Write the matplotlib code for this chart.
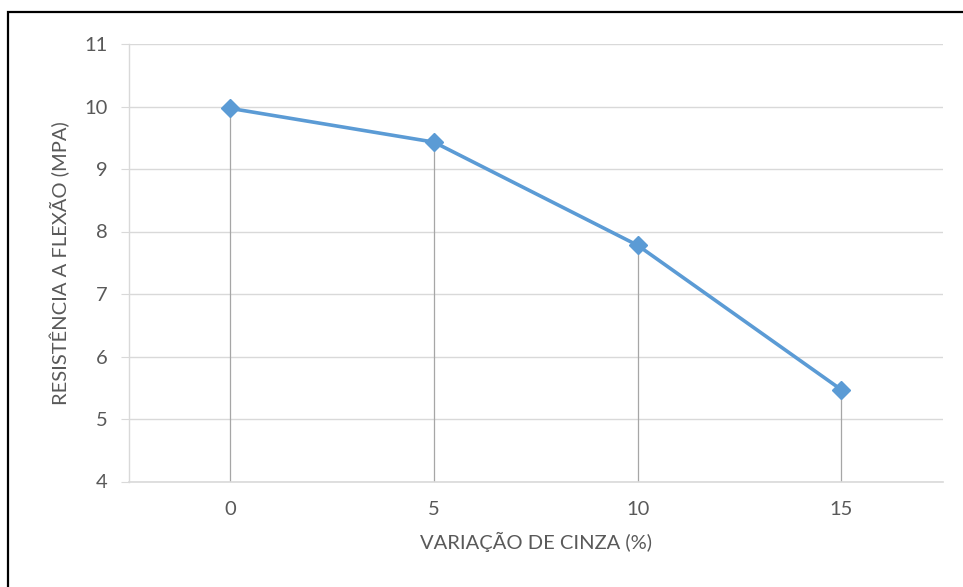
import matplotlib.pyplot as plt
from matplotlib.patches import Rectangle

# data
categories = ["0", "5", "10", "15"]
resistencia = [9.97, 9.43, 7.78, 5.47]
y_ticks = [4, 5, 6, 7, 8, 9, 10, 11]

text_color = "#595959"
grid_color = "#D9D9D9"
line_color = "#5B9BD5"

plt.rcParams['font.family'] = ['Lato', 'DejaVu Sans']

fig = plt.figure(figsize=(9.63, 5.87), dpi=100)
ax = fig.add_axes([128.5 / 963, 1 - 481.5 / 587, (943 - 128.5) / 963, (481.5 - 44) / 587])

x = list(range(len(categories)))

# drop lines from each point to the axis
ax.vlines(x, 4, resistencia, color="#A6A6A6", linewidth=0.9, zorder=2)
ax.plot(x, resistencia, color=line_color, linewidth=2.6, marker="D",
        markersize=9.5, zorder=3)

ax.set_xlim(-0.5, len(categories) - 0.5)
ax.set_ylim(4, 11)
ax.set_yticks(y_ticks)
ax.set_xticks(x)
ax.set_xticklabels(categories)

ax.grid(axis="y", color=grid_color, linewidth=1)
ax.set_axisbelow(True)
for side in ["top", "right"]:
    ax.spines[side].set_visible(False)
ax.spines["left"].set_color(grid_color)
ax.spines["bottom"].set_color(grid_color)
ax.spines["left"].set_linewidth(1)
ax.spines["bottom"].set_linewidth(1.2)

ax.tick_params(axis="y", length=6, color=grid_color, colors=text_color,
               labelsize=14.5, pad=9)
ax.tick_params(axis="y", color=grid_color)
ax.tick_params(axis="x", length=0, colors=text_color, labelsize=14.5, pad=14)

ax.set_xlabel("VARIAÇÃO DE CINZA (%)", fontsize=14.5, color=text_color, labelpad=10)
ax.set_ylabel("RESISTÊNCIA A FLEXÃO (MPA)", fontsize=14.5, color=text_color, labelpad=10)

# outer frame
fig.patches.append(Rectangle((8 / 963, -0.1), 1.1, 1.1 - 12 / 587,
                             transform=fig.transFigure, fill=False,
                             edgecolor="black", linewidth=1.6))

fig.savefig("out.png", dpi=100)
